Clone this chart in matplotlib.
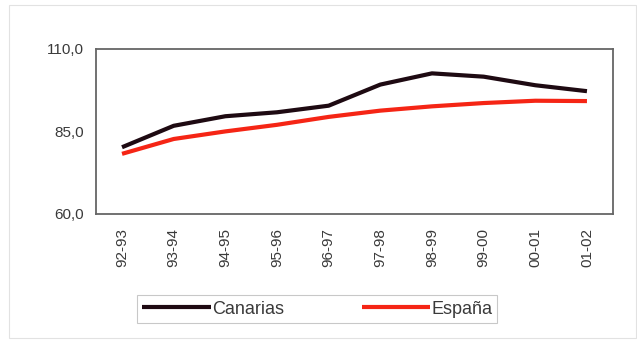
import matplotlib.pyplot as plt
from matplotlib.patches import Rectangle

plt.rcParams['font.family'] = ['Liberation Sans', 'DejaVu Sans']

cursos = ['92-93', '93-94', '94-95', '95-96', '96-97',
          '97-98', '98-99', '99-00', '00-01', '01-02']
canarias = [80.2, 86.7, 89.6, 90.8, 92.8, 99.2, 102.6, 101.6, 99.0, 97.2]
espana = [78.2, 82.7, 85.0, 87.0, 89.4, 91.3, 92.6, 93.6, 94.3, 94.2]
y_ticks = [60, 85, 110]

fig = plt.figure(figsize=(6.37, 3.4), dpi=100)
ax = fig.add_axes([0.151, 0.371, 0.811, 0.485])

x = range(len(cursos))
ax.plot(x, canarias, color='#1e0a12', lw=3.0, label='Canarias', solid_capstyle='butt')
ax.plot(x, espana, color='#f52515', lw=3.0, label='España', solid_capstyle='butt')

ax.set_xlim(-0.5, len(cursos) - 0.5)
ax.set_ylim(60, 110)
ax.set_yticks(y_ticks)
ax.set_yticklabels([f'{v:.1f}'.replace('.', ',') for v in y_ticks], fontsize=11, color='#3a3a3a')
ax.set_xticks(list(x))
ax.set_xticklabels(cursos, rotation=90, fontsize=11, color='#3a3a3a')
ax.tick_params(axis='y', length=0, pad=9)
ax.tick_params(axis='x', length=0, pad=10)
for s in ax.spines.values():
    s.set_color('#666666')
    s.set_linewidth(1.3)

leg = fig.legend(loc='center', bbox_to_anchor=(0.498, 0.091), ncol=2, fontsize=13,
                 frameon=True, fancybox=False, handlelength=3.8, handletextpad=0.05,
                 columnspacing=4.3, borderpad=0.3)
leg.get_frame().set_edgecolor('#bbbbbb')
leg.get_frame().set_linewidth(0.8)
for t in leg.get_texts():
    t.set_color('#3a3a3a')

# marco exterior del grafico
fig.patches.append(Rectangle((0.014, 0.005), 0.984, 0.98, transform=fig.transFigure,
                             fill=False, edgecolor='#e2e2e2', lw=0.8))

fig.savefig('out.png', dpi=100)
